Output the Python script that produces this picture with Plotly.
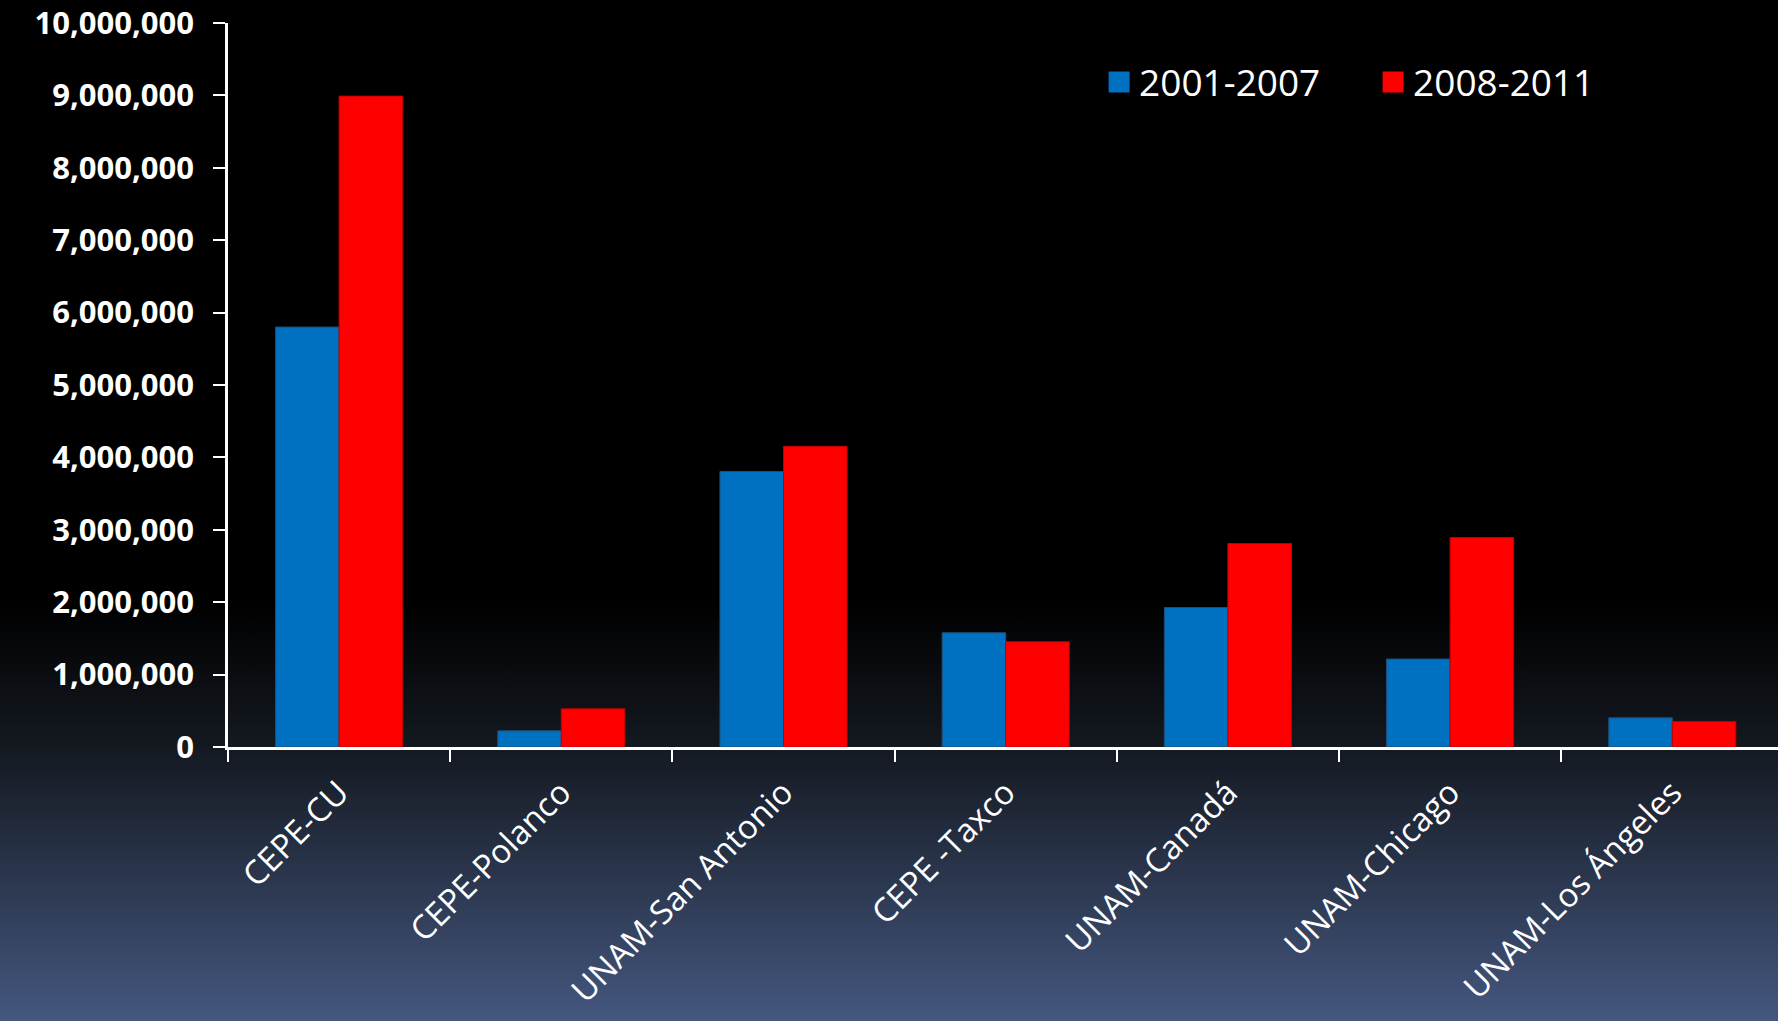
import base64
import plotly.graph_objects as go

categories = ["CEPE-CU", "CEPE-Polanco", "UNAM-San Antonio", "CEPE -Taxco",
              "UNAM-Canadá", "UNAM-Chicago", "UNAM-Los Ángeles"]
series_2001_2007 = [5800000, 224000, 3806000, 1578000, 1926000, 1215000, 403000]
series_2008_2011 = [8990000, 527000, 4154000, 1454000, 2810000, 2893000, 353000]
y_tick_values = [0, 1000000, 2000000, 3000000, 4000000, 5000000,
                 6000000, 7000000, 8000000, 9000000, 10000000]
y_tick_labels = ["0", "1,000,000", "2,000,000", "3,000,000", "4,000,000", "5,000,000",
                 "6,000,000", "7,000,000", "8,000,000", "9,000,000", "10,000,000"]
series_names = ["2001-2007", "2008-2011"]

BLUE = "#0070C0"
RED = "#FF0000"

W, H = 1778, 1021
ML, MT, MR, MB = 228, 23, 0, 274
PW, PH = W - ML - MR, H - MT - MB

svg = (
    f'<svg xmlns="http://www.w3.org/2000/svg" width="{W}" height="{H}" '
    f'viewBox="0 0 {W} {H}" preserveAspectRatio="none">'
    '<defs><linearGradient id="g" x1="0" y1="0" x2="0" y2="1">'
    '<stop offset="0" stop-color="#000000"/>'
    '<stop offset="0.59" stop-color="#000000"/>'
    '<stop offset="0.732" stop-color="#141921"/>'
    '<stop offset="1" stop-color="#45577f"/>'
    '</linearGradient></defs>'
    f'<rect x="0" y="0" width="{W}" height="{H}" fill="url(#g)"/></svg>'
)
bg_src = "data:image/svg+xml;base64," + base64.b64encode(svg.encode()).decode()

fig = go.Figure()
fig.add_trace(go.Bar(
    x=categories, y=series_2001_2007, name=series_names[0],
    marker=dict(color=BLUE, line=dict(color="#1f4e79", width=1)),
    showlegend=False,
))
fig.add_trace(go.Bar(
    x=categories, y=series_2008_2011, name=series_names[1],
    marker=dict(color=RED, line=dict(color="#c00000", width=1)),
    showlegend=False,
))
# legend entries with larger square swatches
for nm, col in zip(series_names, [BLUE, RED]):
    fig.add_trace(go.Scatter(
        x=[None], y=[None], mode="markers", name=nm,
        marker=dict(symbol="square", size=16, color=col, line=dict(color=col, width=10)),
    ))

cat_width = 222.2
x_end = -0.5 + PW / cat_width

fig.update_layout(
    width=W, height=H,
    margin=dict(l=ML, r=MR, t=MT, b=MB, autoexpand=False),
    paper_bgcolor="#000000",
    plot_bgcolor="rgba(0,0,0,0)",
    barmode="group",
    bargap=0.428,
    bargroupgap=0,
    font=dict(family="Open Sans, Lato, sans-serif", color="white"),
    images=[dict(
        source=bg_src, xref="paper", yref="paper",
        x=-ML / PW, y=1 + MT / PH, sizex=W / PW, sizey=H / PH,
        xanchor="left", yanchor="top", sizing="stretch", layer="below",
    )],
    legend=dict(
        orientation="h", x=0.562, y=0.918, xanchor="left", yanchor="middle",
        font=dict(size=37, color="white", family="Open Sans, sans-serif"),
        bgcolor="rgba(0,0,0,0)", entrywidth=229, entrywidthmode="pixels",
        traceorder="normal",
    ),
    xaxis=dict(
        range=[-0.5, x_end],
        showline=True, linecolor="white", linewidth=3,
        ticks="outside", tickson="boundaries", ticklen=12, tickwidth=2, tickcolor="white",
        tickangle=-45, showgrid=False, zeroline=False,
        ticklabelstandoff=10,
        tickfont=dict(size=33, color="white", family="Open Sans, sans-serif"),
    ),
    yaxis=dict(
        range=[0, 10000000],
        tickvals=y_tick_values, ticktext=y_tick_labels,
        showline=True, linecolor="white", linewidth=2.5,
        ticks="outside", ticklen=12, tickwidth=2, tickcolor="white",
        showgrid=False, zeroline=False,
        ticklabelstandoff=13, ticklabeloverflow="allow",
        tickfont=dict(size=31, color="white", family="Open Sans, sans-serif", weight="bold"),
    ),
)

fig.write_html(
    "out.html",
    config={"displayModeBar": False},
    post_script="document.body.style.margin='0';document.documentElement.style.overflow='hidden';",
)
